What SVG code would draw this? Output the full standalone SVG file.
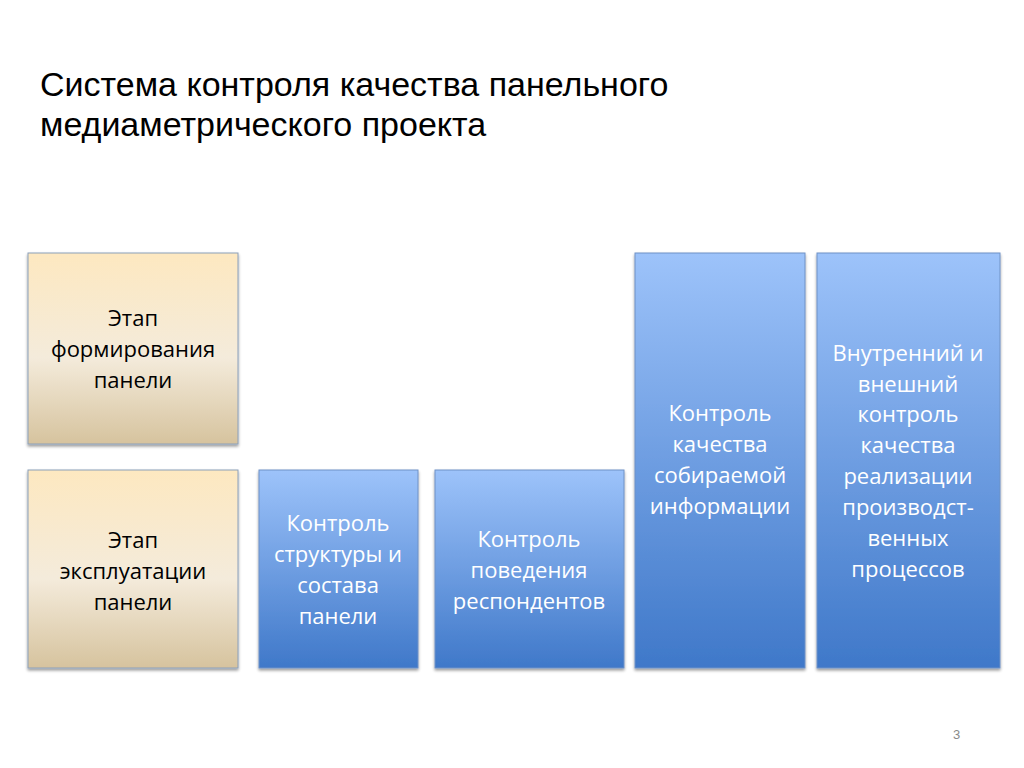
<svg xmlns="http://www.w3.org/2000/svg" width="1024" height="768" viewBox="0 0 1024 768">
<defs>
<linearGradient id="beige" x1="0" y1="0" x2="0" y2="1">
<stop offset="0" stop-color="#fde8c0"/>
<stop offset="0.55" stop-color="#f4ebdb"/>
<stop offset="1" stop-color="#d6c39e"/>
</linearGradient>
<linearGradient id="blue" x1="0" y1="0" x2="0" y2="1">
<stop offset="0" stop-color="#9dc3fa"/>
<stop offset="1" stop-color="#3f78c9"/>
</linearGradient>
<filter id="sh" x="-10%" y="-10%" width="120%" height="120%">
<feGaussianBlur in="SourceAlpha" stdDeviation="1.5"/>
<feOffset dx="0" dy="2"/>
<feComponentTransfer><feFuncA type="linear" slope="0.4"/></feComponentTransfer>
<feMerge><feMergeNode/><feMergeNode in="SourceGraphic"/></feMerge>
</filter>
</defs>
<style>
.title{font-family:"Liberation Sans",Arial,sans-serif;font-size:34px;fill:#000}
.b{fill:url(#beige);stroke:#8c9fba;stroke-width:1;filter:url(#sh)}
.u{fill:url(#blue);stroke:#6f92c6;stroke-width:1;filter:url(#sh)}
.t{font-family:"Open Sans","Liberation Sans",sans-serif;font-size:22px;text-anchor:middle}
.dk{fill:#000000}
.wt{fill:#ffffff}
.pg{font-family:"Liberation Sans",Arial,sans-serif;font-size:13px;fill:#8a8a8a}
</style>
<rect width="1024" height="768" fill="#ffffff"/>
<text class="title" x="40" y="96">Система контроля качества панельного</text>
<text class="title" x="40" y="136">медиаметрического проекта</text>

<g id="node-formation">
<rect class="b" x="28" y="253" width="210" height="191"/>
<text class="t dk"><tspan x="133" y="326">Этап</tspan><tspan x="133" y="357">формирования</tspan><tspan x="133" y="388">панели</tspan></text>
</g>
<g id="node-exploitation">
<rect class="b" x="28" y="470" width="210" height="198"/>
<text class="t dk"><tspan x="133" y="548">Этап</tspan><tspan x="133" y="579">эксплуатации</tspan><tspan x="133" y="610">панели</tspan></text>
</g>
<g id="node-structure">
<rect class="u" x="259" y="470" width="159" height="198"/>
<text class="t wt"><tspan x="338" y="531">Контроль</tspan><tspan x="338" y="562">структуры и</tspan><tspan x="338" y="593">состава</tspan><tspan x="338" y="624">панели</tspan></text>
</g>
<g id="node-behavior">
<rect class="u" x="435" y="470" width="189" height="198"/>
<text class="t wt"><tspan x="529" y="547">Контроль</tspan><tspan x="529" y="578">поведения</tspan><tspan x="529" y="609">респондентов</tspan></text>
</g>
<g id="node-info">
<rect class="u" x="635" y="253" width="170" height="415"/>
<text class="t wt"><tspan x="720" y="421">Контроль</tspan><tspan x="720" y="452">качества</tspan><tspan x="720" y="483">собираемой</tspan><tspan x="720" y="514">информации</tspan></text>
</g>
<g id="node-processes">
<rect class="u" x="817" y="253" width="183" height="415"/>
<text class="t wt"><tspan x="908" y="361">Внутренний и</tspan><tspan x="908" y="392">внешний</tspan><tspan x="908" y="422">контроль</tspan><tspan x="908" y="453">качества</tspan><tspan x="908" y="484">реализации</tspan><tspan x="908" y="515">производст-</tspan><tspan x="908" y="546">венных</tspan><tspan x="908" y="577">процессов</tspan></text>
</g>
<g id="connectors"></g>
<text class="pg" x="953" y="739">3</text>
</svg>
